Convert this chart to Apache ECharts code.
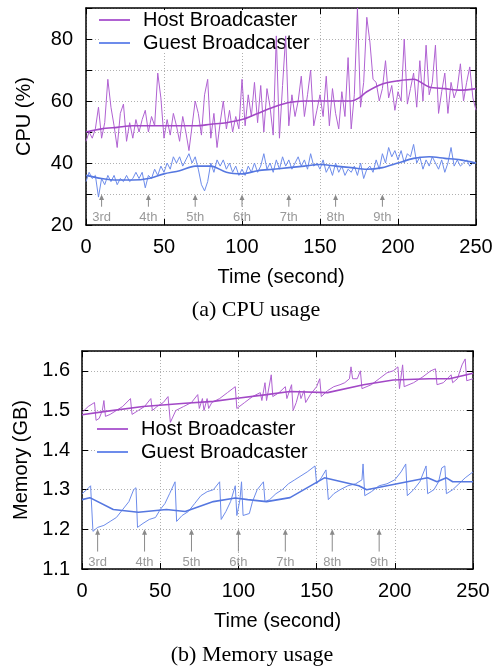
<!DOCTYPE html>
<html><head><meta charset="utf-8">
<script src="https://cdn.jsdelivr.net/npm/echarts@6/dist/echarts.min.js"></script>
<style>html,body{margin:0;padding:0;background:#fff}#c{width:499px;height:666px}</style>
</head><body><div id="c"></div>
<script>
// ---------- data ----------
const seriesNames = ['Host Broadcaster', 'Guest Broadcaster'];
const cpuStep = 2; // seconds between CPU samples
const cpuHost = [47,50,48,51,58,48,53,67,58,52,45,56,59,47,53,48,54,50,54,57,
  50,55,52,69,61,48,54,49,56,52,47,55,50,44,52,60,56,49,62,67,
  48,56,45,53,60,51,57,50,55,51,67,52,62,55,66,53,65,50,64,58,
  49,81,48,65,81,52,62,55,60,68,55,62,70,52,57,62,55,68,52,64,
  56,51,63,55,74,51,62,90,58,66,87,79,67,66,60,64,73,61,65,57,
  63,60,80,59,64,69,58,73,60,78,62,66,78,56,63,69,56,66,61,64,
  72,60,66,71,61,57];
const cpuGuest = [34,37,35,36,29,35,33,36,34,36,33,35,34,36,34,35,37,35,37,32,
  36,35,38,36,39,37,40,38,42,40,42,39,41,43,40,42,38,33,31,34,
  40,37,41,39,41,38,40,37,39,36,38,36,39,37,40,37,39,43,38,40,
  37,41,38,42,39,41,38,40,42,39,41,38,43,39,40,38,41,37,39,36,
  40,37,39,36,38,37,39,36,40,35,38,39,37,41,38,43,40,45,42,44,
  41,44,40,43,42,46,40,42,38,41,39,42,40,38,41,37,40,45,39,41,
  39,40,41,39,40,40];
const cpuHostAvgT = [0,10,20,30,40,50,60,70,80,90,100,110,120,130,140,150,160,170,175,180,190,200,210,220,230,240,250];
const cpuHostAvgV = [50,51,51.5,52,52,52,52,52,52.5,53,54,56,58,59.5,60,60,60,60,61,63,65.5,66.5,67,64.5,64,63.5,64];
const cpuGuestAvgT = [0,10,20,30,40,50,60,70,80,90,100,110,120,130,140,150,160,170,180,190,200,210,220,230,240,250];
const cpuGuestAvgV = [36,35,34.5,34.5,35,36.5,37.5,39,39,37,36.5,37.5,38,38.5,39,39.5,39,38.5,38,38.5,40,41.5,42,41.5,41,40];

const memHostT = [0,4,8,9,11,13,14,15,18,22,26,31,32,36,40,44,45,48,52,55,56.5,60,65,70,74,75,77,78,80,81,83,88,93,98,99,104,109,114,115,117,118,121,122,126,130,131,134,135,137,139,140,142,143,146,150,152,153,157,161,165,168,171,172,173,176,178,179,185,190,195,199,202,203,204,205,206,212,218,223,226,227,231,236,237,240,243,245,246,250];
const memHostV = [1.495,1.51,1.52,1.475,1.48,1.50,1.525,1.485,1.49,1.50,1.51,1.53,1.49,1.50,1.51,1.53,1.50,1.51,1.52,1.535,1.47,1.50,1.51,1.52,1.54,1.505,1.53,1.50,1.53,1.505,1.52,1.53,1.545,1.56,1.505,1.52,1.535,1.545,1.525,1.57,1.525,1.59,1.535,1.545,1.56,1.53,1.565,1.50,1.52,1.55,1.53,1.55,1.52,1.54,1.56,1.58,1.535,1.55,1.56,1.565,1.57,1.58,1.61,1.58,1.58,1.60,1.555,1.565,1.58,1.595,1.60,1.61,1.555,1.56,1.615,1.56,1.57,1.585,1.60,1.605,1.565,1.57,1.59,1.57,1.58,1.615,1.63,1.575,1.58];
const memGuestT = [0,3,5.5,7,10,14,18,22,26,30,33,34.5,35.5,39,43,47,50,53,56,59.5,60.5,64,68,72,76,80,84,88,89,92,95,98,99,101,102,103,107,109,112,116,117,120,124,128,132,136,140,144,149,150,153,156,157.5,161,165,170,175,179,179.7,180.8,185,190,195,200,204,207,208,212,216,220,221,225,228,230,232,233,237,241,245,250];
const memGuestV = [1.29,1.30,1.31,1.195,1.205,1.21,1.22,1.23,1.25,1.27,1.30,1.305,1.205,1.215,1.225,1.23,1.25,1.265,1.29,1.32,1.22,1.235,1.245,1.265,1.285,1.295,1.30,1.32,1.225,1.245,1.27,1.31,1.235,1.275,1.32,1.235,1.24,1.27,1.30,1.32,1.27,1.275,1.29,1.30,1.315,1.325,1.335,1.345,1.36,1.315,1.33,1.35,1.275,1.29,1.30,1.31,1.315,1.325,1.365,1.285,1.295,1.31,1.315,1.325,1.345,1.365,1.285,1.30,1.32,1.36,1.29,1.30,1.32,1.355,1.36,1.29,1.30,1.315,1.33,1.345];
const memHostAvgT = [0,14,39,66,84,98,118,133,157,180,199,222,235,250];
const memHostAvgV = [1.489,1.497,1.51,1.518,1.523,1.53,1.54,1.548,1.545,1.565,1.577,1.58,1.58,1.594];
const memGuestAvgT = [0,5,20,36,54,66,84,98,106,118,133,155,177,182,208,221,227,233,237,250];
const memGuestAvgV = [1.275,1.28,1.25,1.243,1.25,1.245,1.27,1.279,1.275,1.27,1.28,1.33,1.31,1.30,1.32,1.33,1.32,1.33,1.32,1.32];

const joinTimes = [10,40,70,100,130,160,190];
const joinLabels = ['3rd','4th','5th','6th','7th','8th','9th'];

const cpuTicks = [20,40,60,80];
// ---------- build ----------
const SANS = '"Liberation Sans", Arial, Helvetica, sans-serif';
const SERIF = '"Liberation Serif", "Times New Roman", serif';
const cHostRaw = '#b062d2', cHost = '#a248c6';
const cGuestRaw = '#6d8ceb', cGuest = '#5577e0';

const zip = (t, v) => t.map((x, i) => [x, v[i]]);
const stepped = v => v.map((y, i) => [i * cpuStep, y]);

const grid0 = {left: 86, top: 8, width: 390, height: 217};
const grid1 = {left: 82, top: 351, width: 391, height: 218};

const frameLine = {show: true, onZero: false, lineStyle: {color: '#000', width: 1.5}};
const inTick = {show: true, inside: true, length: 6, lineStyle: {color: '#000', width: 1}};
const dotted = {show: true, lineStyle: {color: '#b0b0b0', width: 1, type: [1, 2]}};
const tickLabel = {color: '#000', fontSize: 20, fontFamily: SANS};
const nameStyle = {color: '#000', fontSize: 20, fontFamily: SANS};

function xAxes(gi) {
  return [
    {gridIndex: gi, type: 'value', min: 0, max: 250, interval: 50, position: 'bottom',
     axisLine: frameLine, axisTick: inTick, splitLine: dotted,
     axisLabel: Object.assign({margin: 12}, tickLabel),
     name: 'Time (second)', nameLocation: 'middle', nameGap: 42, nameTextStyle: nameStyle},
    {gridIndex: gi, type: 'value', min: 0, max: 250, interval: 50, position: 'top',
     axisLine: frameLine, axisTick: inTick, splitLine: {show: false}, axisLabel: {show: false}}
  ];
}

function arrowSeries(xi, yi, base, tip, labelVal) {
  return {
    type: 'custom', xAxisIndex: xi, yAxisIndex: yi, silent: true, clip: false, z: 3,
    data: joinTimes.map((t, i) => [t, i]),
    renderItem: function (params, api) {
      const t = api.value(0), i = api.value(1);
      const p0 = api.coord([t, base]), p1 = api.coord([t, tip]), pl = api.coord([t, labelVal]);
      const gray = '#8a8a8a';
      return {type: 'group', children: [
        {type: 'line', shape: {x1: p0[0], y1: p0[1], x2: p1[0], y2: p1[1] + 4}, style: {stroke: gray, lineWidth: 1}},
        {type: 'polygon', shape: {points: [[p1[0], p1[1]], [p1[0] - 2.5, p1[1] + 5.5], [p1[0] + 2.5, p1[1] + 5.5]]}, style: {fill: gray}},
        {type: 'text', x: pl[0], y: pl[1], style: {text: joinLabels[i], fill: '#999', font: '13px ' + SANS,
          align: 'center', verticalAlign: 'middle', textAlign: 'center', textVerticalAlign: 'middle'}}
      ]};
    }
  };
}

function legendAt(left, top) {
  return {left: left, top: top, orient: 'vertical', icon: 'rect', itemWidth: 31, itemHeight: 2,
    itemGap: 3, padding: [0, 4, 0, 0], backgroundColor: '#fff', z: 1,
    selectedMode: false, data: seriesNames,
    textStyle: {color: '#000', fontSize: 20, fontFamily: SANS, padding: [0, 0, 0, 8]}};
}

const option = {
  animation: false,
  backgroundColor: '#fff',
  grid: [grid0, grid1],
  legend: [legendAt(99, 10), legendAt(97, 419)],
  xAxis: xAxes(0).concat(xAxes(1)),
  yAxis: [
    {gridIndex: 0, type: 'value', min: 20, max: 90, interval: 10, position: 'left',
     axisLine: frameLine, axisTick: inTick, splitLine: dotted,
     axisLabel: Object.assign({margin: 13, formatter: v => cpuTicks.indexOf(v) >= 0 ? String(v) : ''}, tickLabel),
     name: 'CPU (%)', nameLocation: 'middle', nameGap: 52, nameTextStyle: nameStyle},
    {gridIndex: 0, type: 'value', min: 20, max: 90, interval: 10, position: 'right',
     axisLine: frameLine, axisTick: inTick, splitLine: {show: false}, axisLabel: {show: false}},
    {gridIndex: 1, type: 'value', min: 1.1, max: 1.65, interval: 0.1, position: 'left',
     axisLine: frameLine, axisTick: inTick, splitLine: dotted,
     axisLabel: Object.assign({margin: 12, formatter: v => Math.abs(v * 10 - Math.round(v * 10)) < 1e-6 ? v.toFixed(1) : ''}, tickLabel),
     name: 'Memory (GB)', nameLocation: 'middle', nameGap: 50, nameTextStyle: nameStyle},
    {gridIndex: 1, type: 'value', min: 1.1, max: 1.65, interval: 0.1, position: 'right',
     axisLine: frameLine, axisTick: inTick, splitLine: {show: false}, axisLabel: {show: false}}
  ],
  series: [
    {name: seriesNames[0], type: 'line', xAxisIndex: 0, yAxisIndex: 0, data: stepped(cpuHost), showSymbol: false, symbol: 'none', color: cHostRaw, lineStyle: {width: 1, color: cHostRaw}},
    {name: seriesNames[1], type: 'line', xAxisIndex: 0, yAxisIndex: 0, data: stepped(cpuGuest), showSymbol: false, symbol: 'none', color: cGuestRaw, lineStyle: {width: 1, color: cGuestRaw}},
    {type: 'line', xAxisIndex: 0, yAxisIndex: 0, data: zip(cpuHostAvgT, cpuHostAvgV), smooth: 0.3, showSymbol: false, symbol: 'none', lineStyle: {width: 1.6, color: cHost}},
    {type: 'line', xAxisIndex: 0, yAxisIndex: 0, data: zip(cpuGuestAvgT, cpuGuestAvgV), smooth: 0.3, showSymbol: false, symbol: 'none', lineStyle: {width: 1.6, color: cGuest}},
    arrowSeries(0, 0, 25.9, 29.8, 22.6),
    {name: seriesNames[0], type: 'line', xAxisIndex: 2, yAxisIndex: 2, data: zip(memHostT, memHostV), showSymbol: false, symbol: 'none', color: cHostRaw, lineStyle: {width: 1, color: cHostRaw}},
    {name: seriesNames[1], type: 'line', xAxisIndex: 2, yAxisIndex: 2, data: zip(memGuestT, memGuestV), showSymbol: false, symbol: 'none', color: cGuestRaw, lineStyle: {width: 1, color: cGuestRaw}},
    {type: 'line', xAxisIndex: 2, yAxisIndex: 2, data: zip(memHostAvgT, memHostAvgV), showSymbol: false, symbol: 'none', lineStyle: {width: 1.6, color: cHost}},
    {type: 'line', xAxisIndex: 2, yAxisIndex: 2, data: zip(memGuestAvgT, memGuestAvgV), showSymbol: false, symbol: 'none', lineStyle: {width: 1.6, color: cGuest}},
    arrowSeries(2, 2, 1.144, 1.2, 1.116)
  ],
  graphic: [
    {type: 'text', x: 256, y: 310, style: {text: '(a) CPU usage', font: '22px ' + SERIF, fill: '#000', align: 'center', verticalAlign: 'middle', textAlign: 'center', textVerticalAlign: 'middle'}},
    {type: 'text', x: 252, y: 655, style: {text: '(b) Memory usage', font: '22px ' + SERIF, fill: '#000', align: 'center', verticalAlign: 'middle', textAlign: 'center', textVerticalAlign: 'middle'}}
  ]
};

const chart = echarts.init(document.getElementById('c'), null, {renderer: 'canvas'});
chart.setOption(option);
</script>
</body></html>
